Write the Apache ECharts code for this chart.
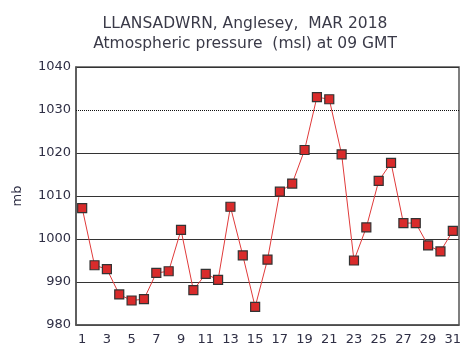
<!DOCTYPE html>
<html><head><meta charset="utf-8">
<script src="https://cdn.jsdelivr.net/npm/echarts@6/dist/echarts.min.js"></script>
<style>html,body{margin:0;padding:0;background:#fff}#c{width:471px;height:358px}</style>
</head><body><div id="c"></div>
<script>
const days = Array.from({length:31},(_, i)=>String(i+1));
const pressure = [1007.2,993.9,993.0,987.1,985.7,986.0,992.1,992.5,1002.1,988.1,991.9,990.5,1007.5,996.2,984.2,995.2,1011.0,1012.9,1020.7,1033.0,1032.5,1019.7,995.0,1002.7,1013.5,1017.7,1003.7,1003.7,998.5,997.1,1001.9];
const titleLines = ['LLANSADWRN, Anglesey,  MAR 2018','Atmospheric pressure  (msl) at 09 GMT'];
const yLabel = 'mb';
const chart = echarts.init(document.getElementById('c'));
const txt = '#2f2f45';
chart.setOption({
  animation:false,
  title:{text:titleLines.join('\n'),left:240,top:9,textAlign:'center',
    textStyle:{fontFamily:'DejaVu Sans',fontSize:15.5,fontWeight:'normal',color:'#3a3a48',lineHeight:20}},
  grid:{left:76,right:12,top:67,bottom:33,outerBoundsMode:'none',containLabel:false},
  xAxis:{type:'category',data:days,boundaryGap:true,
    axisLine:{lineStyle:{color:'#555',width:1.5}},
    axisTick:{show:false},
    axisLabel:{interval:1,color:txt,fontFamily:'DejaVu Sans',fontSize:13,margin:8},
    splitLine:{show:false}},
  yAxis:{type:'value',min:980,max:1040,interval:10,
    name:yLabel,nameLocation:'middle',nameRotate:90,nameGap:52,
    nameTextStyle:{color:txt,fontFamily:'DejaVu Sans',fontSize:13},
    axisLine:{show:true,lineStyle:{color:'#555',width:1.5}},
    axisTick:{show:false},
    axisLabel:{color:txt,fontFamily:'DejaVu Sans',fontSize:13,margin:5,formatter:v=>String(v)},
    splitLine:{lineStyle:{color:['#333','#333','#333','#333','#333','rgba(0,0,0,0)','#333'],width:1}}},
  series:[{type:'line',data:pressure,symbol:'rect',symbolSize:9,showAllSymbol:true,
    lineStyle:{color:'#e03a3a',width:1},
    itemStyle:{color:'#d92b2b',borderColor:'#333',borderWidth:1.2},
    markLine:{silent:true,symbol:'none',label:{show:false},
      lineStyle:{type:'dotted',color:'#111',width:1},data:[{yAxis:1030}]},
    z:3}],
  graphic:[{type:'rect',shape:{x:76,y:67,width:383,height:258},style:{fill:'none',stroke:'#555',lineWidth:1.5},silent:true}]
});
</script></body></html>
